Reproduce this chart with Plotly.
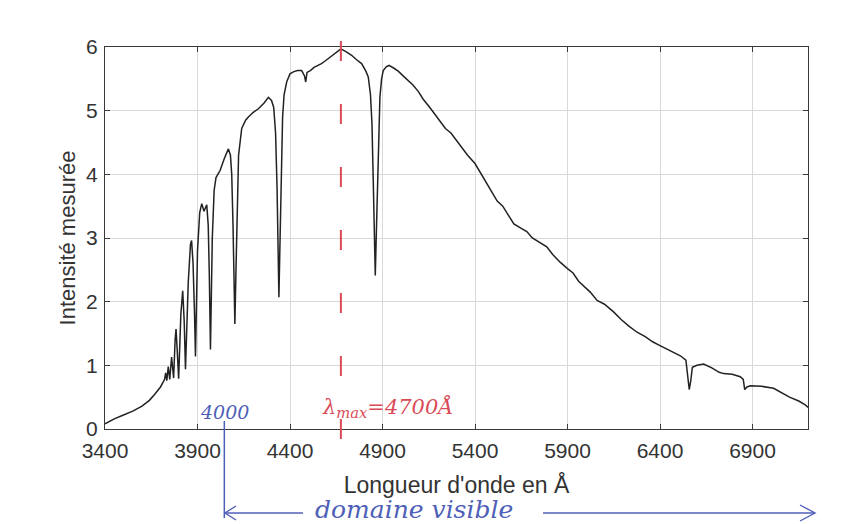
import plotly.graph_objects as go

wavelength = [
    3400, 3450, 3500, 3550, 3600, 3640, 3670, 3700, 3715, 3722, 3728, 3734, 3742,
    3750, 3760, 3771, 3779, 3784, 3791, 3798, 3810, 3820, 3828, 3835, 3850, 3862,
    3868, 3876, 3884, 3889, 3900, 3912, 3923, 3935, 3950, 3958, 3964, 3970, 3980,
    3990, 4000, 4022, 4045, 4067, 4078, 4085, 4092, 4097, 4102, 4108, 4114, 4122,
    4139, 4160, 4175, 4200, 4229, 4260, 4283, 4300, 4312, 4322, 4330, 4336, 4340,
    4345, 4352, 4360, 4368, 4382, 4400, 4418, 4440, 4463, 4478, 4485, 4492, 4510,
    4530, 4553, 4570, 4590, 4607, 4625, 4645, 4660, 4675, 4700, 4733, 4760, 4787,
    4810, 4823, 4835, 4843, 4850, 4856, 4861, 4866, 4874, 4880, 4886, 4895, 4904,
    4920, 4935, 4960, 4985, 5010, 5039, 5066, 5094, 5120, 5156, 5180, 5210, 5240,
    5270, 5300, 5330, 5360, 5400, 5440, 5481, 5520, 5550, 5572, 5610, 5650, 5680,
    5710, 5750, 5788, 5820, 5860, 5900, 5930, 5960, 6000, 6023, 6060, 6100, 6149,
    6190, 6230, 6276, 6320, 6360, 6400, 6450, 6510, 6540, 6550, 6558, 6566, 6575,
    6600, 6636, 6680, 6720, 6744, 6790, 6834, 6850, 6858, 6870, 6888, 6950, 7014,
    7060, 7100, 7150, 7185, 7200,
]
intensity = [
    0.08, 0.16, 0.22, 0.28, 0.36, 0.45, 0.55, 0.66, 0.74, 0.78, 0.88, 0.76, 0.98,
    0.78, 1.13, 0.80, 1.40, 1.57, 1.20, 0.79, 1.80, 2.17, 1.70, 0.94, 2.30, 2.90,
    2.96, 2.60, 1.80, 1.14, 2.80, 3.40, 3.54, 3.42, 3.52, 3.20, 2.40, 1.25, 3.00,
    3.75, 3.95, 4.06, 4.25, 4.40, 4.30, 4.00, 3.20, 2.30, 1.65, 2.50, 3.50, 4.30,
    4.72, 4.85, 4.90, 4.97, 5.03, 5.12, 5.21, 5.16, 5.05, 4.65, 3.80, 2.60, 2.07,
    2.80, 4.00, 4.90, 5.25, 5.45, 5.58, 5.61, 5.63, 5.63, 5.55, 5.45, 5.60, 5.63,
    5.68, 5.71, 5.74, 5.78, 5.82, 5.86, 5.90, 5.94, 5.97, 5.93, 5.87, 5.80, 5.74,
    5.62, 5.53, 5.25, 4.80, 3.90, 3.00, 2.41, 3.00, 3.90, 4.80, 5.21, 5.50, 5.63,
    5.69, 5.71, 5.67, 5.62, 5.55, 5.48, 5.40, 5.30, 5.18, 5.05, 4.95, 4.84, 4.72,
    4.65, 4.53, 4.42, 4.30, 4.17, 3.97, 3.76, 3.58, 3.50, 3.39, 3.22, 3.15, 3.10,
    3.00, 2.93, 2.86, 2.74, 2.62, 2.52, 2.45, 2.32, 2.22, 2.15, 2.02, 1.96, 1.84,
    1.72, 1.62, 1.52, 1.45, 1.37, 1.31, 1.24, 1.15, 1.08, 0.85, 0.62, 0.75, 0.97,
    1.00, 1.02, 0.96, 0.89, 0.87, 0.86, 0.82, 0.78, 0.62, 0.66, 0.68, 0.67, 0.64,
    0.57, 0.50, 0.44, 0.38, 0.34,
]

x_ticks = [3400, 3900, 4400, 4900, 5400, 5900, 6400, 6900]
y_ticks = [0, 1, 2, 3, 4, 5, 6]
x_range = [3400, 7200]
y_range = [0, 6]

lambda_max = 4675      # position of the red dashed line (peak)
visible_start = 4045   # position of the handwritten blue line

x_title = "Longueur d'onde en Å"
y_title = "Intensité mesurée"

RED = "#d94b57"
BLUE = "#4f5fb8"
TXT = "#333333"
SANS = "Liberation Sans, Arial, sans-serif"
HAND = "DejaVu Serif, serif"

# plot-area geometry (pixels) used to place the handwritten notes
PL, PR, PT, PB = 105, 808, 47, 429


def xp(v):
    return (v - x_range[0]) / (x_range[1] - x_range[0])


def px2x(p):
    return (p - PL) / (PR - PL)


def px2y(p):
    return (PB - p) / (PB - PT)


fig = go.Figure()
fig.add_trace(go.Scatter(
    x=wavelength, y=intensity, mode="lines",
    line=dict(color="#222222", width=1.5), showlegend=False, hoverinfo="skip",
))

axis_common = dict(
    showline=True, linecolor="#3a3a3a", linewidth=1.3, mirror="ticks",
    ticks="inside", ticklen=5, tickcolor="#3a3a3a", automargin=False,
    showgrid=True, gridcolor="#d9d9d9", gridwidth=1, zeroline=False,
    tickfont=dict(family=SANS, size=21, color=TXT),
)

fig.update_layout(
    width=845, height=524,
    margin=dict(l=97, r=845 - 97 - (PR - PL), t=39, b=524 - 39 - (PB - PT)),
    paper_bgcolor="white", plot_bgcolor="white",
    xaxis=dict(range=x_range, tickvals=x_ticks, ticklabelstandoff=3,
               title=dict(text=x_title, standoff=15,
                          font=dict(family=SANS, size=23, color=TXT)),
               **axis_common),
    yaxis=dict(range=y_range, tickvals=y_ticks, ticklabelstandoff=2,
               title=dict(text=y_title, standoff=4,
                          font=dict(family=SANS, size=22, color=TXT)),
               **axis_common),
)

# red dashed line at lambda max
fig.add_shape(type="line", xref="paper", yref="paper",
              x0=xp(lambda_max), x1=xp(lambda_max), y0=px2y(41), y1=px2y(443),
              line=dict(color=RED, width=2, dash="20px,43px"))

# blue vertical line at start of visible domain
x_vis = xp(visible_start)
fig.add_shape(type="line", xref="paper", yref="paper",
              x0=x_vis, x1=x_vis, y0=px2y(421), y1=px2y(518),
              line=dict(color=BLUE, width=1.5))

# blue double arrow: two segments around the text plus open arrowheads
ay_ = px2y(513)
blue_line = dict(color=BLUE, width=1.4)
fig.add_shape(type="line", xref="paper", yref="paper",
              x0=x_vis, x1=px2x(303), y0=ay_, y1=ay_, line=blue_line)
fig.add_shape(type="line", xref="paper", yref="paper",
              x0=px2x(543), x1=px2x(815), y0=ay_, y1=ay_, line=blue_line)
lt = px2x(225)
rt = px2x(815)
fig.add_shape(type="path", xref="paper", yref="paper",
              path=f"M {px2x(236)},{px2y(506)} L {lt},{ay_} L {px2x(236)},{px2y(520)}",
              line=blue_line)
fig.add_shape(type="path", xref="paper", yref="paper",
              path=f"M {px2x(800)},{px2y(505)} L {rt},{ay_} L {px2x(800)},{px2y(521)}",
              line=blue_line)

fig.add_annotation(xref="paper", yref="paper", x=px2x(414), y=px2y(509),
                   xanchor="center", yanchor="middle",
                   text="<i>domaine visible</i>", showarrow=False,
                   font=dict(family=HAND, size=25, color=BLUE))
fig.add_annotation(xref="paper", yref="paper", x=x_vis, y=px2y(412),
                   xanchor="center", yanchor="middle",
                   text="<i>4000</i>", showarrow=False,
                   font=dict(family=HAND, size=19, color=BLUE))
fig.add_annotation(xref="paper", yref="paper", x=px2x(388), y=px2y(407),
                   xanchor="center", yanchor="middle",
                   text="<i>λ<sub>max</sub>=4700Å</i>", showarrow=False,
                   font=dict(family=HAND, size=21, color=RED))

fig.write_html("out.html")
